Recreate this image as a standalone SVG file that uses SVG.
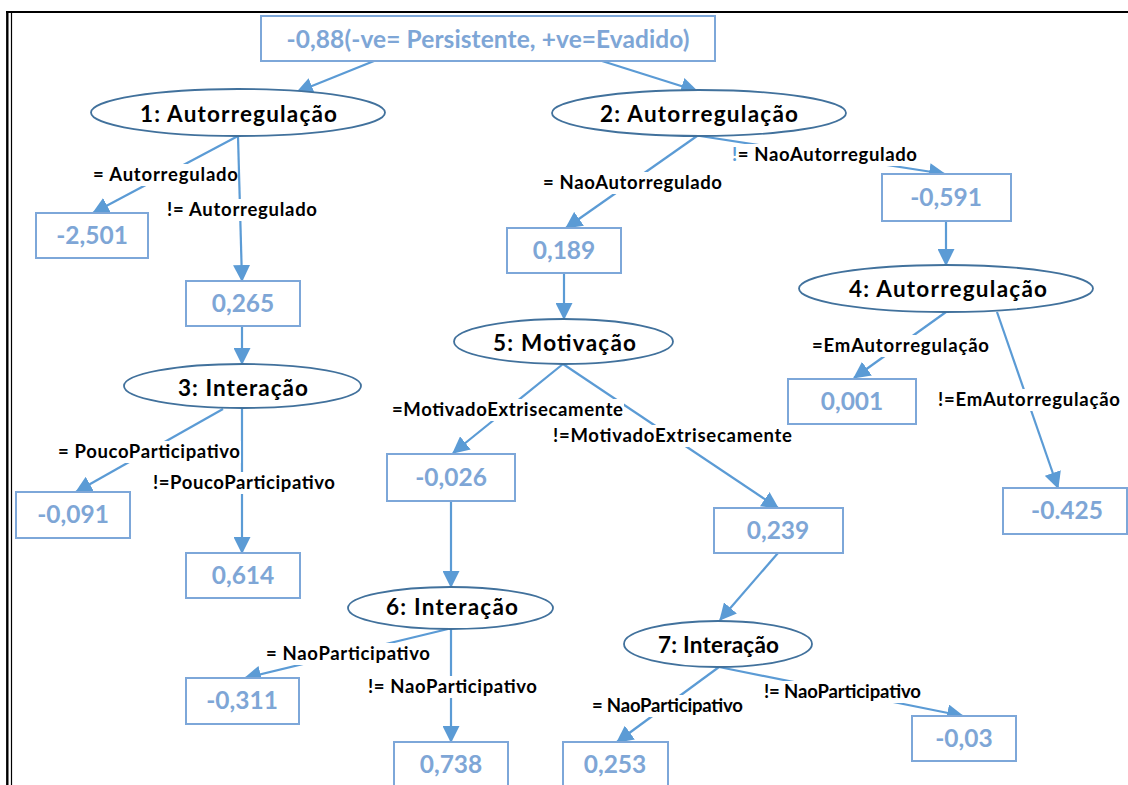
<svg xmlns="http://www.w3.org/2000/svg" width="1128" height="785" viewBox="0 0 1128 785">
<defs>
<style>
.box{fill:#fff;stroke:#7DA7D9;stroke-width:2}
.val{font-family:Lato,"Open Sans",sans-serif;font-weight:bold;font-size:24.5px;fill:#7EA6D6;text-anchor:middle}
.ell{fill:#fff;stroke:#41719C;stroke-width:1.8}
.nt{font-family:Lato,"Open Sans",sans-serif;font-weight:bold;font-size:22.5px;fill:#000;text-anchor:middle}
.cn{stroke:#5B9BD5;stroke-width:2.2;fill:none;marker-end:url(#ah)}
.lb{font-family:Lato,"Open Sans",sans-serif;font-weight:bold;font-size:18.5px;fill:#000}
.lbg{fill:#fff;stroke:none}
</style>
<marker id="ah" viewBox="0 0 16 16" refX="15" refY="8" markerWidth="17" markerHeight="17" markerUnits="userSpaceOnUse" orient="auto">
<path d="M0,0 L16,8 L0,16 z" fill="#5B9BD5"/>
</marker>
</defs>
<rect width="1128" height="785" fill="#fff"/>
<g id="frame" stroke="#000" fill="none">
<line x1="7.3" y1="11" x2="7.3" y2="785" stroke-width="2.4"/>
<line x1="11.5" y1="13" x2="11.5" y2="785" stroke-width="1.2"/>
<line x1="6" y1="12" x2="1128" y2="12" stroke-width="2.2"/>
</g>
<g id="connectors">
<line class="cn" x1="374" y1="61" x2="297" y2="92"/>
<line class="cn" x1="602" y1="61" x2="697" y2="91"/>
<line class="cn" x1="238" y1="136" x2="93" y2="213"/>
<line class="cn" x1="238" y1="136" x2="242" y2="281"/>
<line class="cn" x1="242" y1="326" x2="242" y2="364"/>
<line class="cn" x1="223" y1="409" x2="76" y2="492"/>
<line class="cn" x1="242" y1="409" x2="242" y2="553"/>
<line class="cn" x1="697" y1="136" x2="566" y2="228"/>
<line class="cn" x1="700" y1="136" x2="945" y2="174"/>
<line class="cn" x1="946" y1="221" x2="946" y2="265"/>
<line class="cn" x1="564" y1="273" x2="564" y2="319"/>
<line class="cn" x1="946" y1="312" x2="854" y2="378"/>
<line class="cn" x1="997" y1="312" x2="1058" y2="488"/>
<line class="cn" x1="563" y1="364" x2="453" y2="453"/>
<line class="cn" x1="563" y1="364" x2="778" y2="508"/>
<line class="cn" x1="451" y1="501" x2="451" y2="587"/>
<line class="cn" x1="778" y1="553" x2="720" y2="620"/>
<line class="cn" x1="448" y1="629" x2="245" y2="678"/>
<line class="cn" x1="451" y1="629" x2="451" y2="742"/>
<line class="cn" x1="719" y1="667" x2="617" y2="742"/>
<line class="cn" x1="719" y1="667" x2="963" y2="716"/>
</g>
<g id="labels">
<rect class="lbg" x="92" y="164" width="145" height="22"/>
<text class="lb" x="93" y="181" textLength="145">= Autorregulado</text>
<rect class="lbg" x="166" y="199" width="152" height="22"/>
<text class="lb" x="167" y="216" textLength="150">!= Autorregulado</text>
<rect class="lbg" x="57" y="441" width="184" height="22"/>
<text class="lb" x="58" y="458" textLength="182">= PoucoParticipativo</text>
<rect class="lbg" x="152" y="472" width="184" height="22"/>
<text class="lb" x="153" y="489" textLength="182">!=PoucoParticipativo</text>
<rect class="lbg" x="542" y="172" width="181" height="22"/>
<text class="lb" x="543" y="189" textLength="179">= NaoAutorregulado</text>
<rect class="lbg" x="740" y="144" width="178" height="22"/>
<text class="lb" x="732" y="161" textLength="185"><tspan fill="#5B9BD5">!</tspan>= NaoAutorregulado</text>
<rect class="lbg" x="811" y="335" width="179" height="22"/>
<text class="lb" x="812" y="352" textLength="177">=EmAutorregulação</text>
<rect class="lbg" x="937" y="389" width="184" height="22"/>
<text class="lb" x="938" y="406" textLength="182">!=EmAutorregulação</text>
<rect class="lbg" x="391" y="399" width="233" height="22"/>
<text class="lb" x="392" y="416" textLength="231">=MotivadoExtrisecamente</text>
<rect class="lbg" x="552" y="425" width="241" height="22"/>
<text class="lb" x="553" y="442" textLength="239">!=MotivadoExtrisecamente</text>
<rect class="lbg" x="265" y="643" width="166" height="22"/>
<text class="lb" x="266" y="660" textLength="164">= NaoParticipativo</text>
<rect class="lbg" x="367" y="676" width="171" height="22"/>
<text class="lb" x="368" y="693" textLength="169">!= NaoParticipativo</text>
<rect class="lbg" x="591" y="695" width="153" height="22"/>
<text class="lb" x="592" y="712" textLength="151">= NaoParticipativo</text>
<rect class="lbg" x="763" y="681" width="159" height="22"/>
<text class="lb" x="764" y="698" textLength="157">!= NaoParticipativo</text>
</g>
<g id="root"><rect class="box" x="261" y="16" width="454" height="45"/><text class="val" x="488" y="48" textLength="403" font-size="21.5">-0,88(-ve= Persistente, +ve=Evadido)</text></g>
<g id="n1"><ellipse class="ell" cx="238" cy="112.5" rx="147" ry="23.5"/><text class="nt" x="238.5" y="122" textLength="197">1: Autorregulação</text></g>
<g id="n2"><ellipse class="ell" cx="699" cy="113" rx="147" ry="23"/><text class="nt" x="699" y="122" textLength="198">2: Autorregulação</text></g>
<g id="n3"><ellipse class="ell" cx="242.5" cy="386" rx="118.5" ry="22"/><text class="nt" x="243" y="396" textLength="130">3: Interação</text></g>
<g id="n4"><ellipse class="ell" cx="946" cy="288.5" rx="147" ry="23.5"/><text class="nt" x="948" y="297" textLength="198">4: Autorregulação</text></g>
<g id="n5"><ellipse class="ell" cx="563.5" cy="341.5" rx="109.5" ry="22.5"/><text class="nt" x="564.5" y="351" textLength="143">5: Motivação</text></g>
<g id="n6"><ellipse class="ell" cx="450.5" cy="608" rx="102.5" ry="21"/><text class="nt" x="452" y="615" textLength="132">6: Interação</text></g>
<g id="n7"><ellipse class="ell" cx="718" cy="644" rx="94" ry="23"/><text class="nt" x="718.5" y="653" textLength="121">7: Interação</text></g>
<g id="v1"><rect class="box" x="36" y="213" width="112" height="45"/><text class="val" x="92" y="244">-2,501</text></g>
<g id="v2"><rect class="box" x="186" y="281" width="114" height="45"/><text class="val" x="243" y="312">0,265</text></g>
<g id="v3"><rect class="box" x="16" y="492" width="114" height="46"/><text class="val" x="73" y="523">-0,091</text></g>
<g id="v4"><rect class="box" x="186" y="553" width="114" height="45"/><text class="val" x="243" y="584">0,614</text></g>
<g id="v5"><rect class="box" x="507" y="228" width="114" height="45"/><text class="val" x="564" y="259">0,189</text></g>
<g id="v6"><rect class="box" x="882" y="174" width="129" height="47"/><text class="val" x="946" y="206">-0,591</text></g>
<g id="v7"><rect class="box" x="788" y="379" width="128" height="45"/><text class="val" x="852" y="410">0,001</text></g>
<g id="v8"><rect class="box" x="1003" y="488" width="124" height="46"/><text class="val" x="1067" y="519">-0.425</text></g>
<g id="v9"><rect class="box" x="387" y="454" width="128" height="47"/><text class="val" x="451" y="486">-0,026</text></g>
<g id="v10"><rect class="box" x="714" y="508" width="129" height="45"/><text class="val" x="778" y="539">0,239</text></g>
<g id="v11"><rect class="box" x="186" y="678" width="113" height="46"/><text class="val" x="242" y="709">-0,311</text></g>
<g id="v12"><rect class="box" x="394" y="742" width="114" height="46"/><text class="val" x="451" y="773">0,738</text></g>
<g id="v13"><rect class="box" x="563" y="742" width="105" height="46"/><text class="val" x="615" y="773">0,253</text></g>
<g id="v14"><rect class="box" x="912" y="716" width="104" height="45"/><text class="val" x="964" y="747">-0,03</text></g>
</svg>
